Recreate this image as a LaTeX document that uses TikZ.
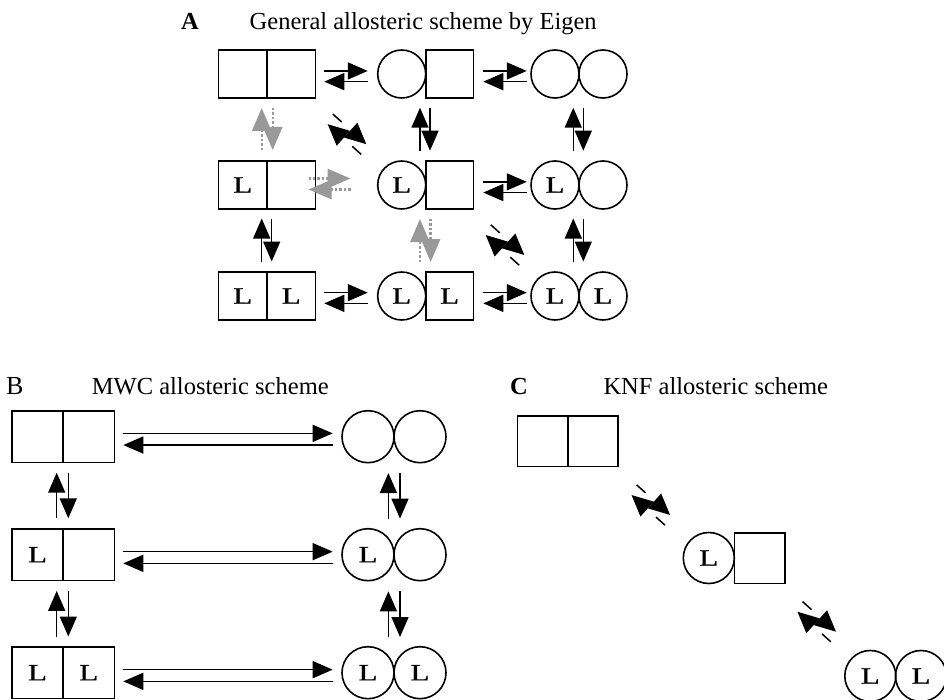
\documentclass[tikz,border=0pt]{standalone}
\usepackage{fontspec}
\setmainfont{Liberation Serif}
\newfontfamily\Lfam[FakeBold=0.6]{Liberation Serif}
\usepackage{graphicx}
\usetikzlibrary{arrows.meta}
\newcommand{\ttlfont}{\fontsize{24.5bp}{28bp}\selectfont}
\newcommand{\Lfont}{\Lfam\fontsize{23.5bp}{25bp}\selectfont}
\newcommand{\LL}{\scalebox{1.33}[1]{L}}
\newcommand{\eqp}[6]{%
\begin{scope}[shift={(#1,#2)},rotate=#3]
\draw[#6] ({-(#4)/2},{-(#5)/2}) -- ({(#4)/2},{-(#5)/2});
\draw[#6] ({(#4)/2},{(#5)/2}) -- ({-(#4)/2},{(#5)/2});
\end{scope}}
\newcommand{\dgp}[3]{%
\begin{scope}[shift={(#1,#2)},rotate=#3]
\fill (21,-5.5) -- (0,-15.5) -- (0,4.5) -- cycle;
\fill (-21,5.5) -- (0,15.5) -- (0,-4.5) -- cycle;
\draw[line width=1.5bp] (-24,-5.5) -- (-12,-5.5);
\draw[line width=1.5bp] (24,5.5) -- (12,5.5);
\end{scope}}
\tikzset{
  shp/.style={draw, line width=1.6bp, inner sep=0pt, font=\Lfont},
  cellA/.style={shp, rectangle, minimum width=48.5bp, minimum height=48.3bp},
  cellAs/.style={shp, rectangle, minimum width=47.8bp, minimum height=48.3bp},
  rndA/.style={shp, circle, minimum size=48bp},
  cellB/.style={shp, rectangle, minimum width=51.3bp, minimum height=51.7bp},
  rndB/.style={shp, circle, minimum size=52bp},
  cellC/.style={shp, rectangle, minimum width=50.4bp, minimum height=50.6bp},
  rndC/.style={shp, circle, minimum size=51bp},
  blk/.style={line width=1.5bp, -{Triangle[length=20bp,width=17bp]}},
  gry/.style={line width=2.4bp, black!40, dash pattern=on 2.4bp off 2bp, -{Triangle[length=23bp,width=19bp]}},
  ttl/.style={anchor=base west, inner sep=0pt, font=\ttlfont}
}
\begin{document}
\begin{tikzpicture}[x=1bp,y=-1bp]
\useasboundingbox (0,0) rectangle (944,700);
\fill[white] (0,0) rectangle (944,700);
% titles
\node[ttl] (tA) at (181,30) {\textbf{A}};
\node[ttl] (tAt) at (249.5,30) {General allosteric scheme by Eigen};
\node[ttl, font=\fontsize{26bp}{28bp}\selectfont] (tB) at (6,394) {B};
\node[ttl] (tBt) at (91.7,394) {MWC allosteric scheme};
\node[ttl] (tC) at (510,394) {\textbf{C}};
\node[ttl] (tCt) at (603.3,394) {KNF allosteric scheme};
% ---------- A ----------
% row 1
\node[cellA] (a1l) at (242.75,74) {};
\node[cellA] (a1r) at (291.25,74) {};
\node[rndA] (a2c) at (401.7,74) {};
\node[cellAs] (a2b) at (449.6,74) {};
\node[rndA] (a3l) at (555,74) {};
\node[rndA] (a3r) at (603,74) {};
% row 2
\node[cellA] (b1l) at (242.75,185) {\LL};
\node[cellA] (b1r) at (291.25,185) {};
\node[rndA] (b2c) at (401.7,185) {\LL};
\node[cellAs] (b2b) at (449.6,185) {};
\node[rndA] (b3l) at (555,185) {\LL};
\node[rndA] (b3r) at (603,185) {};
% row 3
\node[cellA] (c1l) at (242.75,296) {\LL};
\node[cellA] (c1r) at (291.25,296) {\LL};
\node[rndA] (c2c) at (401.7,296) {\LL};
\node[cellAs] (c2b) at (449.6,296) {\LL};
\node[rndA] (c3l) at (555,296) {\LL};
\node[rndA] (c3r) at (603,296) {\LL};
% arrows A
\eqp{346}{76.3}{0}{43.5}{10.7}{blk}
\eqp{505}{76.3}{0}{43.5}{10.7}{blk}
\eqp{505}{187.2}{0}{43.5}{10.7}{blk}
\eqp{346}{298}{0}{43.5}{10.7}{blk}
\eqp{505}{298}{0}{43.5}{10.7}{blk}
\eqp{425}{129.2}{-90}{43}{10}{blk}
\eqp{578.3}{129.2}{-90}{43}{10}{blk}
\eqp{266.7}{240}{-90}{43}{10}{blk}
\eqp{578.3}{240}{-90}{43}{10}{blk}
\eqp{267.2}{129}{-90}{42}{11}{gry}
\eqp{425.3}{240.5}{-90}{43}{10.7}{gry}
\eqp{329.5}{184}{0}{42}{11}{gry}
\dgp{347}{134.2}{-42}
\dgp{505}{245}{-42}
% ---------- B ----------
\node[cellB] (B1l) at (37.5,436.7) {};
\node[cellB] (B1r) at (88.8,436.7) {};
\node[rndB] (B1a) at (368,436.7) {};
\node[rndB] (B1b) at (420,436.7) {};
\node[cellB] (B2l) at (37.5,554.7) {\LL};
\node[cellB] (B2r) at (88.8,554.7) {};
\node[rndB] (B2a) at (368,554.7) {\LL};
\node[rndB] (B2b) at (420,554.7) {};
\node[cellB] (B3l) at (37.5,672.7) {\LL};
\node[cellB] (B3r) at (88.8,672.7) {\LL};
\node[rndB] (B3a) at (368,672.7) {\LL};
\node[rndB] (B3b) at (420,672.7) {\LL};
\eqp{228}{439.2}{0}{209.4}{11.7}{blk}
\eqp{228}{557.5}{0}{209.4}{11.7}{blk}
\eqp{228}{675.5}{0}{209.4}{11.7}{blk}
\eqp{62.5}{495.5}{-90}{45.6}{11.6}{blk}
\eqp{62.5}{613.7}{-90}{45.6}{11.6}{blk}
\eqp{394.2}{495.8}{-90}{45.6}{11.6}{blk}
\eqp{394.2}{614.2}{-90}{45.6}{11.6}{blk}
% ---------- C ----------
\node[cellC] (C1l) at (542.5,441.3) {};
\node[cellC] (C1r) at (592.7,441.3) {};
\node[rndC] (C2a) at (708.8,558) {\LL};
\node[cellC] (C2b) at (759.6,558) {};
\node[rndC] (C3a) at (870.3,676) {\LL};
\node[rndC] (C3b) at (921,676) {\LL};
\dgp{650.8}{505}{-42}
\dgp{816.7}{621.7}{-42}
\end{tikzpicture}
\end{document}
